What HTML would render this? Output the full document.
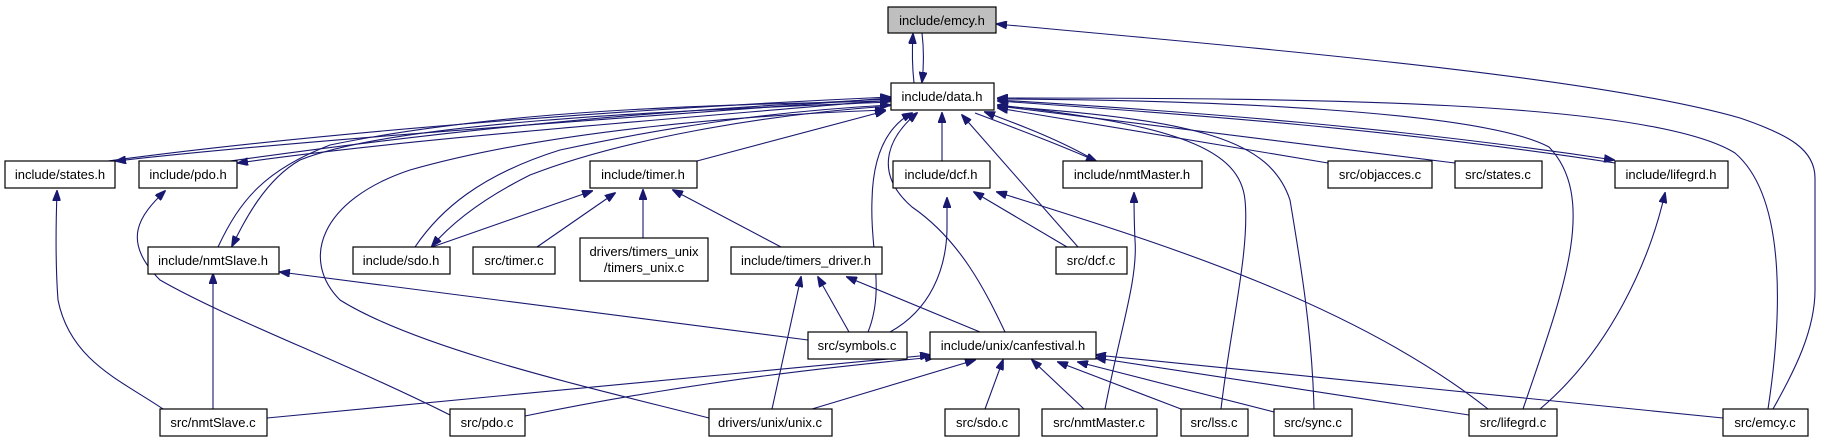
<!DOCTYPE html>
<html><head><meta charset="utf-8"><style>
html,body{margin:0;padding:0;background:#fff;}
svg{display:block;}
text{font-family:"Liberation Sans",sans-serif;font-size:13px;fill:#000;}
.n{fill:#fff;stroke:#000;stroke-width:1.2;}
.e{fill:none;stroke:#191970;stroke-width:1.1;}
</style></head><body>
<svg width="1821" height="443" viewBox="0 0 1821 443" xmlns="http://www.w3.org/2000/svg">
<defs><marker id="a" markerWidth="11" markerHeight="8" refX="10" refY="4" orient="auto" markerUnits="userSpaceOnUse"><path d="M0,0 L11,4 L0,8 Z" fill="#191970" stroke="#191970"/></marker></defs>
<g class="e" marker-end="url(#a)">
<path d="M914,83 C912,65 912,50 913,34"/>
<path d="M922,33 C924,50 924,65 922,82"/>
<path d="M1773,409 C1795,370 1815,330 1815,290 L1815,178 C1815,150 1790,135 1740,118 C1600,78 1300,52 997,24"/>
<path d="M891,98 C600,120 300,140 116,161"/>
<path d="M108,161 C300,135 600,110 890,97"/>
<path d="M891,100 C600,125 400,140 238,163"/>
<path d="M230,161 C450,130 650,110 890,99"/>
<path d="M218,247 C240,200 265,170 330,145 C500,110 700,105 890,101"/>
<path d="M890,102 C700,110 400,120 300,160 C265,180 245,220 232,246"/>
<path d="M415,247 C440,210 480,175 560,150 C700,120 800,110 890,105"/>
<path d="M890,106 C760,115 620,140 530,175 C480,200 450,225 432,246"/>
<path d="M709,418 C600,390 420,350 340,300 C300,260 320,200 410,170 C550,130 750,115 885,110"/>
<path d="M697,161 L885,111"/>
<path d="M432,247 L592,191"/>
<path d="M537,247 L615,193"/>
<path d="M643,238 L643,190"/>
<path d="M781,247 L673,190"/>
<path d="M163,409 C120,380 70,360 58,300 C55,260 56,220 57,191"/>
<path d="M450,415 C340,360 230,320 160,280 C120,240 140,215 165,191"/>
<path d="M213,409 L213,274"/>
<path d="M808,340 L280,272"/>
<path d="M772,409 L801,277"/>
<path d="M849,332 L818,277"/>
<path d="M980,332 L847,277"/>
<path d="M267,418 L930,355"/>
<path d="M525,416 C700,380 850,365 935,357"/>
<path d="M812,409 L975,360"/>
<path d="M985,409 L1003,360"/>
<path d="M1084,409 L1032,360"/>
<path d="M1181,409 L1058,362"/>
<path d="M1274,412 L1078,362"/>
<path d="M1469,415 L1096,358"/>
<path d="M1723,418 L1096,355"/>
<path d="M1105,409 C1120,330 1138,280 1135,240 C1134,220 1134,205 1134,193"/>
<path d="M1540,409 C1610,350 1650,260 1665,193"/>
<path d="M1067,247 L974,192"/>
<path d="M1488,409 C1350,300 1150,240 997,192"/>
<path d="M942,161 L942,113"/>
<path d="M1078,247 L962,115"/>
<path d="M1096,161 C1060,140 1020,125 985,112"/>
<path d="M975,113 C1020,130 1060,145 1096,161"/>
<path d="M1221,409 C1230,330 1250,250 1245,200 C1240,150 1180,125 998,105"/>
<path d="M1314,409 C1312,330 1300,260 1290,200 C1270,140 1200,120 998,106"/>
<path d="M1328,163 L998,108"/>
<path d="M1455,163 L998,106"/>
<path d="M1615,163 C1400,130 1200,115 998,101"/>
<path d="M998,100 C1200,112 1400,128 1614,160"/>
<path d="M1523,409 C1560,300 1600,200 1549,147 C1480,110 1200,100 998,99"/>
<path d="M1768,409 C1780,330 1790,200 1735,153 C1650,100 1300,98 998,98"/>
<path d="M868,332 C885,290 870,250 872,200 C873,150 890,125 912,113"/>
<path d="M1005,332 C985,290 960,240 912,207 C875,175 885,140 917,113"/>
<path d="M890,332 C930,310 946,270 947,230 L947,198"/>
</g>
<g>
<rect x="888" y="7" width="108" height="26" fill="#bfbfbf" stroke="#000" stroke-width="1.2"/><text x="942" y="25" text-anchor="middle">include/emcy.h</text>
<rect class="n" x="891" y="83" width="103" height="27"/><text x="942" y="101" text-anchor="middle">include/data.h</text>
<rect class="n" x="5" y="161" width="110" height="27"/><text x="60" y="179" text-anchor="middle">include/states.h</text>
<rect class="n" x="139" y="161" width="98" height="27"/><text x="188" y="179" text-anchor="middle">include/pdo.h</text>
<rect class="n" x="590" y="161" width="107" height="27"/><text x="643" y="179" text-anchor="middle">include/timer.h</text>
<rect class="n" x="893" y="161" width="97" height="27"/><text x="941" y="179" text-anchor="middle">include/dcf.h</text>
<rect class="n" x="1063" y="161" width="139" height="27"/><text x="1132" y="179" text-anchor="middle">include/nmtMaster.h</text>
<rect class="n" x="1328" y="161" width="104" height="27"/><text x="1380" y="179" text-anchor="middle">src/objacces.c</text>
<rect class="n" x="1455" y="161" width="87" height="27"/><text x="1498" y="179" text-anchor="middle">src/states.c</text>
<rect class="n" x="1615" y="161" width="113" height="27"/><text x="1671" y="179" text-anchor="middle">include/lifegrd.h</text>
<rect class="n" x="148" y="247" width="131" height="27"/><text x="213" y="265" text-anchor="middle">include/nmtSlave.h</text>
<rect class="n" x="353" y="247" width="97" height="27"/><text x="401" y="265" text-anchor="middle">include/sdo.h</text>
<rect class="n" x="473" y="247" width="82" height="27"/><text x="514" y="265" text-anchor="middle">src/timer.c</text>
<rect class="n" x="580" y="238" width="128" height="43"/><text x="644" y="256" text-anchor="middle">drivers/timers_unix</text><text x="644" y="272" text-anchor="middle">/timers_unix.c</text>
<rect class="n" x="731" y="247" width="151" height="27"/><text x="806" y="265" text-anchor="middle">include/timers_driver.h</text>
<rect class="n" x="1056" y="247" width="71" height="27"/><text x="1091" y="265" text-anchor="middle">src/dcf.c</text>
<rect class="n" x="808" y="332" width="99" height="27"/><text x="857" y="350" text-anchor="middle">src/symbols.c</text>
<rect class="n" x="930" y="332" width="166" height="27"/><text x="1013" y="350" text-anchor="middle">include/unix/canfestival.h</text>
<rect class="n" x="160" y="409" width="107" height="27"/><text x="213" y="427" text-anchor="middle">src/nmtSlave.c</text>
<rect class="n" x="450" y="409" width="75" height="27"/><text x="487" y="427" text-anchor="middle">src/pdo.c</text>
<rect class="n" x="709" y="409" width="123" height="27"/><text x="770" y="427" text-anchor="middle">drivers/unix/unix.c</text>
<rect class="n" x="945" y="409" width="74" height="27"/><text x="982" y="427" text-anchor="middle">src/sdo.c</text>
<rect class="n" x="1042" y="409" width="115" height="27"/><text x="1099" y="427" text-anchor="middle">src/nmtMaster.c</text>
<rect class="n" x="1181" y="409" width="67" height="27"/><text x="1214" y="427" text-anchor="middle">src/lss.c</text>
<rect class="n" x="1274" y="409" width="78" height="27"/><text x="1313" y="427" text-anchor="middle">src/sync.c</text>
<rect class="n" x="1469" y="409" width="88" height="27"/><text x="1513" y="427" text-anchor="middle">src/lifegrd.c</text>
<rect class="n" x="1723" y="409" width="85" height="27"/><text x="1765" y="427" text-anchor="middle">src/emcy.c</text>
</g>
</svg>
</body></html>
